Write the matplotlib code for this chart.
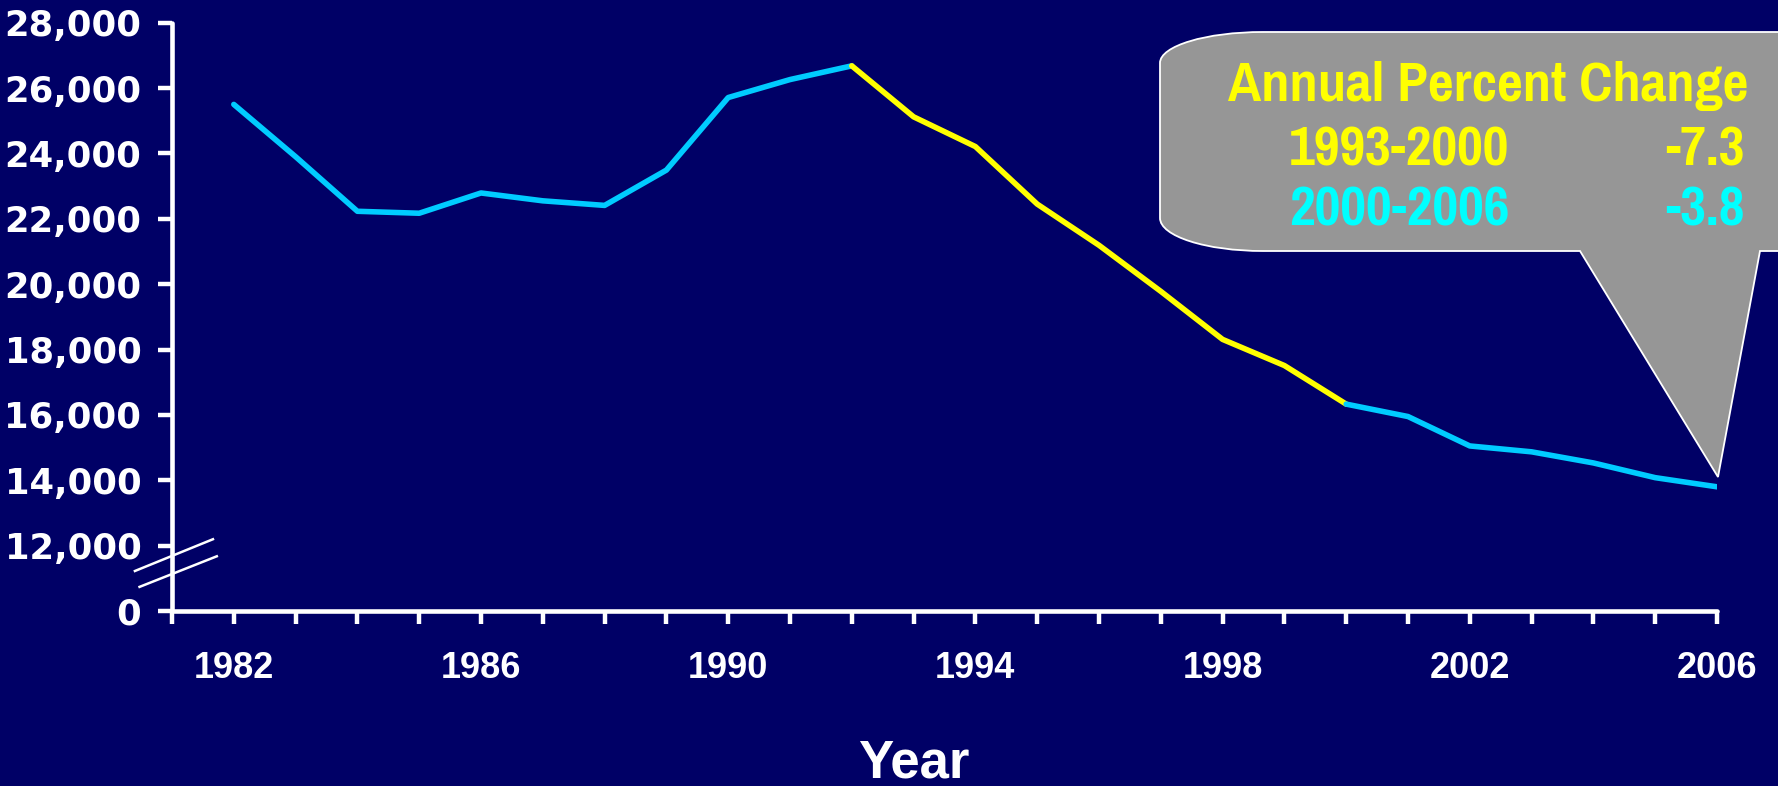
import matplotlib
matplotlib.use("Agg")
import matplotlib.pyplot as plt
from matplotlib.path import Path
from matplotlib.patches import PathPatch
import numpy as np
import logging
logging.getLogger("matplotlib.font_manager").setLevel(logging.ERROR)

# ---------------- data ----------------
years = [1982, 1983, 1984, 1985, 1986, 1987, 1988, 1989, 1990, 1991, 1992,
         1993, 1994, 1995, 1996, 1997, 1998, 1999, 2000,
         2001, 2002, 2003, 2004, 2005, 2006]
counts = [25500, 23900, 22230, 22170, 22790, 22550, 22410, 23490, 25710, 26260, 26680,
          25120, 24210, 22450, 21190, 19780, 18310, 17510, 16330,
          15950, 15050, 14870, 14530, 14080, 13800]
segment_breaks = [1992, 2000]          # joinpoints: colour changes
segment_colors = ["#00CCFF", "#FFFF00", "#00CCFF"]

ytick_values = [10000, 12000, 14000, 16000, 18000, 20000, 22000, 24000, 26000, 28000]
ytick_labels = ["0", "12,000", "14,000", "16,000", "18,000", "20,000",
                "22,000", "24,000", "26,000", "28,000"]
xtick_major = [1982, 1986, 1990, 1994, 1998, 2002, 2006]
xtick_minor = list(range(1981, 2007))

apc_title = "Annual Percent Change"
apc_periods = ["1993-2000", "2000-2006"]
apc_values = ["-7.3", "-3.8"]
apc_colors = ["#FFFF00", "#00FFFF"]

BG = "#000066"
W, H = 1778, 786

fig = plt.figure(figsize=(W / 100, H / 100), dpi=100, facecolor=BG)
ax = fig.add_axes([172 / W, 1 - 611 / H, (1717 - 172) / W, (611 - 22.7) / H])
ax.set_facecolor(BG)

# ---------------- line segments ----------------
yrs = np.array(years)
cts = np.array(counts)
bounds = [yrs.min()] + segment_breaks + [yrs.max()]
for i, col in enumerate(segment_colors):
    m = (yrs >= bounds[i]) & (yrs <= bounds[i + 1])
    ax.plot(yrs[m], cts[m], color=col, lw=4.0, solid_joinstyle="round",
            solid_capstyle="round", zorder=3)

ax.set_xlim(1981, 2006)
ax.set_ylim(10000, 28000)

for s in ["top", "right"]:
    ax.spines[s].set_visible(False)
for s in ["left", "bottom"]:
    ax.spines[s].set_color("white")
    ax.spines[s].set_linewidth(3.3)
    ax.spines[s].set_capstyle("round")

ax.set_yticks(ytick_values)
ax.set_yticklabels(ytick_labels)
ax.set_xticks(xtick_major)
ax.set_xticklabels([str(y) for y in xtick_major])
ax.set_xticks(xtick_minor, minor=True)

ax.tick_params(axis="y", which="both", direction="out", length=10, width=3.2,
               color="white", labelcolor="white", pad=12, labelsize=25.5)
ax.tick_params(axis="x", which="both", direction="out", length=9.5, width=3.2,
               color="white", labelcolor="white", pad=19, labelsize=26)
for lab in ax.get_yticklabels():
    lab.set_fontfamily(["DejaVu Sans"])
    lab.set_fontweight("bold")
for lab in ax.get_xticklabels():
    lab.set_fontfamily(["Liberation Sans", "DejaVu Sans"])
    lab.set_fontweight("bold")

# axis break marks
for (x0, y0, x1, y1) in [(-0.024, 0.068, 0.0265, 0.122), (-0.021, 0.041, 0.029, 0.093)]:
    ax.plot([x0, x1], [y0, y1], transform=ax.transAxes, color="white",
            lw=1.8, clip_on=False, zorder=4)

fig.text(914 / W, 1 - 778 / H, "Year", color="white", fontsize=38,
         fontweight="bold", ha="center", va="baseline",
         family=["Liberation Sans", "DejaVu Sans"])

# ---------------- callout ----------------
def fp(px, py):
    return (px / W, 1 - py / H)

k = 0.5523
rx1, ry1 = 103, 31
rx2, ry2 = 103, 33
verts = [
    fp(1263, 32), fp(1800, 32), fp(1800, 251), fp(1760, 251), fp(1718, 477),
    fp(1580, 251), fp(1263, 251),
    fp(1263 - k * rx2, 251), fp(1160, 218 + k * ry2), fp(1160, 218),
    fp(1160, 63),
    fp(1160, 63 - k * ry1), fp(1263 - k * rx1, 32), fp(1263, 32),
]
codes = [Path.MOVETO, Path.LINETO, Path.LINETO, Path.LINETO, Path.LINETO,
         Path.LINETO, Path.LINETO,
         Path.CURVE4, Path.CURVE4, Path.CURVE4,
         Path.LINETO,
         Path.CURVE4, Path.CURVE4, Path.CURVE4]
patch = PathPatch(Path(verts, codes), facecolor="#969696", edgecolor="white",
                  lw=1.3, transform=fig.transFigure, zorder=5)
fig.patches.append(patch)

cfont = ["Pragati Narrow", "Fira Sans Condensed", "Liberation Sans"]
fig.text(*fp(1228, 101), apc_title, color="#FFFF00", fontsize=44,
         fontweight="bold", ha="left", va="baseline", family=cfont, zorder=6)
for i, (per, val, col) in enumerate(zip(apc_periods, apc_values, apc_colors)):
    base = 165 + i * 61
    fig.text(*fp(1289, base), per, color=col, fontsize=44, fontweight="bold",
             ha="left", va="baseline", family=cfont, zorder=6)
    fig.text(*fp(1665, base), val, color=col, fontsize=44, fontweight="bold",
             ha="left", va="baseline", family=cfont, zorder=6)

fig.savefig("out.png", dpi=100, facecolor=BG)
